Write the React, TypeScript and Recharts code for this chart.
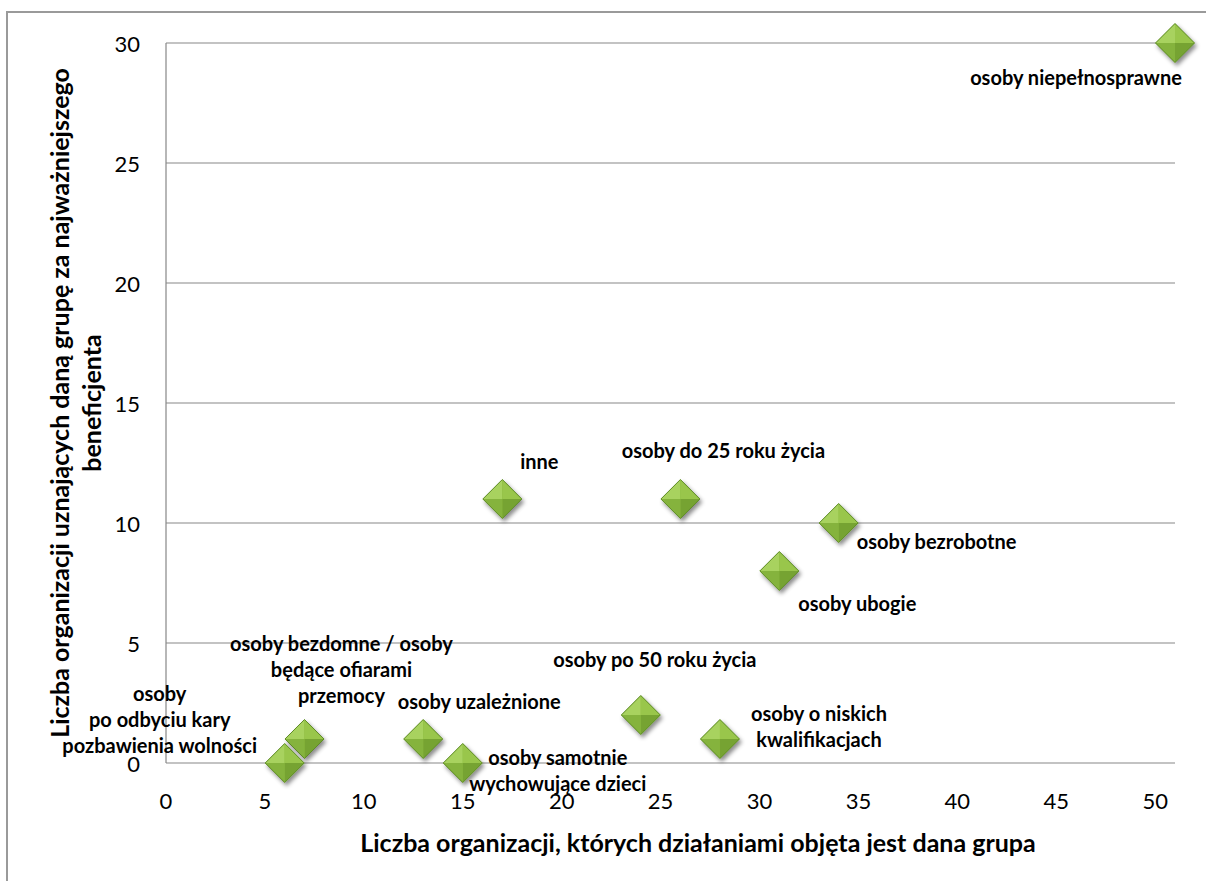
import { ScatterChart, Scatter, XAxis, YAxis, CartesianGrid, Label } from "recharts";

// Grupy beneficjentów
const groups = [
  "osoby niepełnosprawne",
  "inne",
  "osoby do 25 roku życia",
  "osoby bezrobotne",
  "osoby ubogie",
  "osoby po 50 roku życia",
  "osoby o niskich kwalifikacjach",
  "osoby uzależnione",
  "osoby samotnie wychowujące dzieci",
  "osoby bezdomne / osoby będące ofiarami przemocy",
  "osoby po odbyciu kary pozbawienia wolności",
];

// liczba organizacji, których działaniami objęta jest grupa
const orgsServing = [51, 17, 26, 34, 31, 24, 28, 13, 15, 7, 6];
// liczba organizacji uznających grupę za najważniejszego beneficjenta
const orgsPriority = [30, 11, 11, 10, 8, 2, 1, 1, 0, 1, 0];

// etykiety łamane na linie
const labelLines = [
  ["osoby niepełnosprawne"],
  ["inne"],
  ["osoby do 25 roku życia"],
  ["osoby bezrobotne"],
  ["osoby ubogie"],
  ["osoby po 50 roku życia"],
  ["osoby o niskich", "kwalifikacjach"],
  ["osoby uzależnione"],
  ["osoby samotnie", "wychowujące dzieci"],
  ["osoby bezdomne / osoby", "będące ofiarami", "przemocy"],
  ["osoby", "po odbyciu kary", "pozbawienia wolności"],
];

const xTicks = [0, 5, 10, 15, 20, 25, 30, 35, 40, 45, 50];
const yTicks = [0, 5, 10, 15, 20, 25, 30];

// przesunięcie etykiety względem punktu (środek pierwszej linii)
const labelOffset: [number, number][] = [
  [-99, 34],
  [37, -38],
  [43, -49],
  [98, 18],
  [78, 32],
  [14, -56],
  [99, -26],
  [56, -38],
  [95, -6],
  [37, -96],
  [-125, -70],
];

const data = groups.map((name, i) => ({
  idx: i,
  name,
  x: orgsServing[i],
  y: orgsPriority[i],
}));

const FONT = "Lato, 'Noto Sans', sans-serif";
const GRID = "#878787";
const R = 19.5;

function DiamondPoint(props: any) {
  const { cx, cy, payload } = props;
  const i = payload.idx;
  const [dx, dy] = labelOffset[i];
  const top = `${cx},${cy - R}`;
  const right = `${cx + R},${cy}`;
  const bottom = `${cx},${cy + R}`;
  const left = `${cx - R},${cy}`;
  const c = `${cx},${cy}`;
  return (
    <g>
      <g filter="url(#diamondShadow)">
        <polygon points={`${left} ${top} ${right} ${bottom}`} fill="#86b53a" />
        <polygon points={`${left} ${top} ${c}`} fill="#a8d25e" />
        <polygon points={`${top} ${right} ${c}`} fill="#99c64c" />
        <polygon points={`${right} ${bottom} ${c}`} fill="#76a333" />
        <polygon points={`${bottom} ${left} ${c}`} fill="#85b33c" />
        <polygon
          points={`${left} ${top} ${right} ${bottom}`}
          fill="none"
          stroke="#5f8c28"
          strokeWidth={1}
        />
      </g>
      {labelLines[i].map((line, k) => (
        <text
          key={k}
          x={cx + dx}
          y={cy + dy + k * 26}
          textAnchor="middle"
          dominantBaseline="central"
          fontFamily={FONT}
          fontWeight={700}
          fontSize={20}
          fill="#000"
        >
          {line}
        </text>
      ))}
    </g>
  );
}

function XTick(props: any) {
  const { x, y, payload } = props;
  return (
    <text x={x} y={y} textAnchor="middle" dominantBaseline="central" fontFamily={FONT} fontSize={22} fill="#000">
      {payload.value}
    </text>
  );
}

function YTick(props: any) {
  const { x, y, payload } = props;
  return (
    <text x={x} y={y} textAnchor="end" dominantBaseline="central" fontFamily={FONT} fontSize={22} fill="#000">
      {payload.value}
    </text>
  );
}

export default function App() {
  return (
    <div
      style={{
        position: "absolute",
        left: 0,
        top: 0,
        width: 1206,
        height: 881,
        overflow: "hidden",
        background: "#fff",
      }}
    >
      <div
        style={{
          position: "absolute",
          left: 6,
          top: 11,
          width: 1300,
          height: 1000,
          borderLeft: "2px solid #9a9a9a",
          borderTop: "2px solid #9a9a9a",
        }}
      />
      <svg width={0} height={0} style={{ position: "absolute" }}>
        <defs>
          <filter id="diamondShadow" x="-50%" y="-50%" width="200%" height="200%">
            <feDropShadow dx={2} dy={3} stdDeviation={2} floodColor="#000" floodOpacity={0.45} />
          </filter>
        </defs>
      </svg>
      <div style={{ position: "absolute", left: 0, top: 0 }}>
        <ScatterChart
          width={1206}
          height={881}
          margin={{ top: 43, right: 31, bottom: 78, left: 106 }}
        >
          <CartesianGrid vertical={false} stroke={GRID} strokeWidth={1.2} />
          <XAxis
            type="number"
            dataKey="x"
            domain={[0, 51]}
            ticks={xTicks}
            interval={0}
            height={40}
            axisLine={false}
            tickLine={false}
            tickSize={0}
            tickMargin={37}
            tick={<XTick />}
          >
            <Label
              content={() => (
                <text
                  x={698}
                  y={842}
                  textAnchor="middle"
                  dominantBaseline="central"
                  fontFamily={FONT}
                  fontWeight={700}
                  fontSize={25}
                  fill="#000"
                >
                  Liczba organizacji, których działaniami objęta jest dana grupa
                </text>
              )}
            />
          </XAxis>
          <YAxis
            type="number"
            dataKey="y"
            domain={[0, 30]}
            ticks={yTicks}
            interval={0}
            width={60}
            axisLine={{ stroke: GRID, strokeWidth: 1.2 }}
            tickLine={false}
            tickSize={0}
            tickMargin={26}
            tick={<YTick />}
          >
            <Label
              content={() => (
                <g fontFamily={FONT} fontWeight={700} fontSize={25} fill="#000">
                  <text
                    x={58.5}
                    y={403}
                    transform="rotate(-90, 58.5, 403)"
                    textAnchor="middle"
                    dominantBaseline="central"
                  >
                    Liczba organizacji uznających daną grupę za najważniejszego
                  </text>
                  <text
                    x={91}
                    y={403}
                    transform="rotate(-90, 91, 403)"
                    textAnchor="middle"
                    dominantBaseline="central"
                  >
                    beneficjenta
                  </text>
                </g>
              )}
            />
          </YAxis>
          <Scatter
            data={data}
            isAnimationActive={false}
            shape={(p: any) => <DiamondPoint {...p} />}
          />
        </ScatterChart>
      </div>
    </div>
  );
}
